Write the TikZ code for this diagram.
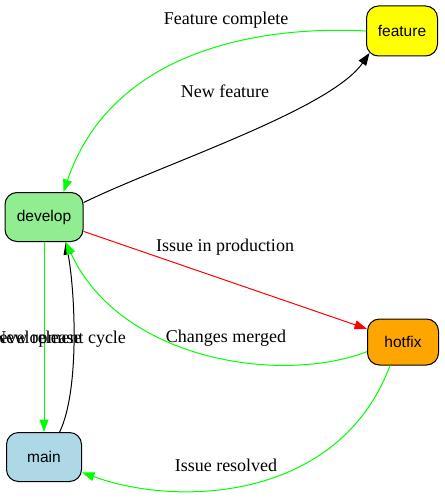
\documentclass[tikz,border=0pt]{standalone}
\usepackage{fontspec}
\setmainfont{Liberation Serif}
\setsansfont{Liberation Sans}
\usetikzlibrary{arrows.meta}
\definecolor{featyellow}{HTML}{FFFF00}
\definecolor{devgreen}{HTML}{90EE90}
\definecolor{fixorange}{HTML}{FFA500}
\definecolor{mainblue}{HTML}{ADD8E6}
\definecolor{flowgreen}{HTML}{00FF00}
\definecolor{flowred}{HTML}{FF0000}

\begin{document}
\begin{tikzpicture}[x=1pt,y=-1pt,
  branch/.style={draw=black, line width=1pt, rounded corners=12pt, inner sep=0pt,
    font=\sffamily\fontsize{15.5}{18}\selectfont},
  lbl/.style={anchor=base, inner sep=0pt, font=\fontsize{18}{20}\selectfont},
  flow/.style={line width=1pt, -{Triangle[length=12.5pt,width=9pt]}}]
  \useasboundingbox (0,0) rectangle (444,500);
  \clip (0,0) rectangle (444,500);

  % Ramas
  \node[branch, fill=featyellow, minimum width=71pt, minimum height=50pt] (feature) at (402,31) {feature};
  \node[branch, fill=devgreen, minimum width=78pt, minimum height=49pt] (develop) at (44,217) {develop};
  \node[branch, fill=fixorange, minimum width=71pt, minimum height=46pt] (hotfix) at (403,342) {hotfix};
  \node[branch, fill=mainblue, minimum width=75pt, minimum height=49pt] (main) at (44,457) {main};

  % develop <-> feature
  \draw[flow, flowgreen] (feature.west) .. controls (250,25) and (110,55) .. (develop.52);
  \draw[flow, black] (develop.20) .. controls (160,165) and (330,110) .. ([shift={(3.5pt,3.5pt)}]feature.south west);

  % develop <-> hotfix
  \draw[flow, flowred] (develop.-20) -- (hotfix.160);
  \draw[flow, black] (main.58) .. controls (80,390) and (75,290) .. (develop.-49);
  \draw[flow, flowgreen] (hotfix.195) .. controls (280,385) and (120,360) .. (develop.-49);

  % hacia main
  \draw[flow, flowgreen] (develop.south) -- (main.north);
  \draw[flow, flowgreen] (hotfix.241) .. controls (340,500) and (180,508) .. (main.-22);

  % Etiquetas
  \node[lbl] (lblcomplete) at (226,25) {Feature complete};
  \node[lbl] (lblnew) at (225,98) {New feature};
  \node[lbl] (lblissue) at (225,251) {Issue in production};
  \node[lbl] (lblmerged) at (226,342) {Changes merged};
  \node[lbl] (lblrelease) at (37.5,343) {New release};
  \node[lbl] (lblcycle) at (39,343) {New development cycle};
  \node[lbl] (lblresolved) at (226,471) {Issue resolved};
\end{tikzpicture}
\end{document}
